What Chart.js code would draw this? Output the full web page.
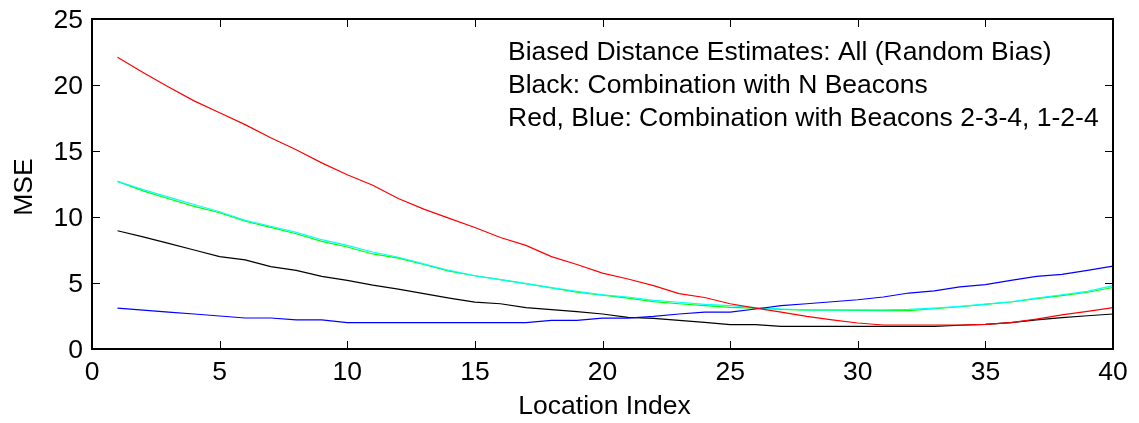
<!DOCTYPE html>
<html>
<head>
<meta charset="utf-8">
<title>MSE vs Location Index</title>
<script src="https://cdn.jsdelivr.net/npm/chart.js@4.4.1/dist/chart.umd.min.js"></script>
<style>
    html, body { margin: 0; padding: 0; background: #fff; }
    #wrap { position: relative; width: 1139px; height: 423px; }
</style>
</head>
<body>
<div id="wrap"><canvas id="mseChart"></canvas></div>
<script>
// Location indices on the x axis
const locations = [1, 2, 3, 4, 5, 6, 7, 8, 9, 10, 11, 12, 13, 14, 15, 16, 17, 18, 19, 20,
    21, 22, 23, 24, 25, 26, 27, 28, 29, 30, 31, 32, 33, 34, 35, 36, 37, 38, 39, 40];

// MSE per location for each combination
const mseBlack = [8.96, 8.5, 8.0, 7.5, 7.0, 6.75, 6.24, 5.95, 5.5, 5.2, 4.84, 4.54, 4.19, 3.86, 3.55, 3.43, 3.13, 2.98, 2.83, 2.65,
    2.4, 2.32, 2.17, 2.02, 1.84, 1.84, 1.72, 1.72, 1.72, 1.72, 1.72, 1.72, 1.72, 1.8, 1.87, 2.0, 2.2, 2.37, 2.52, 2.65];
const mseGreen = [12.7, 11.98, 11.38, 10.8, 10.32, 9.68, 9.22, 8.73, 8.15, 7.73, 7.2, 6.88, 6.4, 5.9, 5.55, 5.25, 4.95, 4.63, 4.3, 4.08,
    3.86, 3.59, 3.43, 3.28, 3.16, 3.1, 3.0, 2.95, 2.95, 2.93, 2.9, 2.9, 3.05, 3.2, 3.38, 3.56, 3.81, 4.04, 4.3, 4.66];
const mseCyan = [12.7, 12.07, 11.5, 10.95, 10.4, 9.75, 9.3, 8.83, 8.28, 7.85, 7.35, 6.95, 6.45, 5.95, 5.55, 5.25, 4.95, 4.65, 4.36, 4.1,
    3.94, 3.69, 3.54, 3.38, 3.28, 3.13, 3.03, 2.97, 2.97, 2.97, 2.97, 3.0, 3.1, 3.23, 3.4, 3.58, 3.86, 4.11, 4.36, 4.8];
const mseBlue = [3.1, 2.95, 2.8, 2.65, 2.5, 2.35, 2.35, 2.2, 2.2, 2.0, 2.0, 2.0, 2.0, 2.0, 2.0, 2.0, 2.0, 2.17, 2.17, 2.34,
    2.34, 2.47, 2.65, 2.8, 2.8, 3.03, 3.28, 3.43, 3.58, 3.73, 3.94, 4.24, 4.4, 4.7, 4.87, 5.2, 5.5, 5.66, 5.96, 6.28];
const mseRed = [22.1, 20.95, 19.85, 18.8, 17.9, 17.0, 16.0, 15.1, 14.1, 13.2, 12.4, 11.4, 10.6, 9.9, 9.2, 8.45, 7.85, 7.0, 6.4, 5.75,
    5.3, 4.8, 4.2, 3.9, 3.43, 3.1, 2.8, 2.47, 2.2, 1.97, 1.82, 1.82, 1.82, 1.82, 1.87, 2.0, 2.27, 2.58, 2.85, 3.13];

// Axis ticks
const xTicks = [0, 5, 10, 15, 20, 25, 30, 35, 40];
const yTicks = [0, 5, 10, 15, 20, 25];

// Annotation lines in the upper right
const noteLines = [
    'Biased Distance Estimates: All (Random Bias)',
    'Black: Combination with N Beacons',
    'Red, Blue: Combination with Beacons 2-3-4, 1-2-4'
];

const FONT = '25px "Liberation Sans", Arial, sans-serif';
const STRETCH = 1.06;   // text is a little wider than plain Arial

function series(values, color) {
    return {
        data: locations.map((x, i) => ({ x: x, y: values[i] })),
        borderColor: color,
        borderWidth: 1.2,
        pointRadius: 0,
        tension: 0,
        fill: false
    };
}

// draw a string with the horizontal stretch, optionally rotated
function drawText(ctx, str, x, y, align, angle) {
    ctx.save();
    ctx.translate(x, y);
    if (angle) ctx.rotate(angle);
    ctx.scale(STRETCH, 1);
    ctx.textAlign = align;
    ctx.textBaseline = 'alphabetic';
    ctx.fillText(str, 0, 0);
    ctx.restore();
}

// Box around the plot, inward tick marks, tick labels, axis titles and the note
const frameAndText = {
    id: 'frameAndText',
    afterDatasetsDraw(chart) {
        const { ctx, chartArea: a, scales } = chart;
        const len = 8;
        ctx.save();
        ctx.strokeStyle = '#000';
        ctx.lineWidth = 1;
        ctx.beginPath();
        xTicks.forEach(v => {
            const px = Math.round(scales.x.getPixelForValue(v)) + 0.5;
            ctx.moveTo(px, a.bottom); ctx.lineTo(px, a.bottom - len);
            ctx.moveTo(px, a.top); ctx.lineTo(px, a.top + len);
        });
        yTicks.forEach(v => {
            const py = Math.round(scales.y.getPixelForValue(v)) + 0.5;
            ctx.moveTo(a.left, py); ctx.lineTo(a.left + len, py);
            ctx.moveTo(a.right, py); ctx.lineTo(a.right - len, py);
        });
        ctx.stroke();
        ctx.lineWidth = 2;
        ctx.strokeRect(a.left, a.top, a.right - a.left, a.bottom - a.top);

        ctx.fillStyle = '#000';
        ctx.font = FONT;
        xTicks.forEach(v => drawText(ctx, String(v), scales.x.getPixelForValue(v), a.bottom + 31, 'center'));
        yTicks.forEach(v => drawText(ctx, String(v), a.left - 9, scales.y.getPixelForValue(v) + 9, 'right'));

        drawText(ctx, 'Location Index', (a.left + a.right) / 2 + 2, 414, 'center');
        drawText(ctx, 'MSE', 32, (a.top + a.bottom) / 2 + 3, 'center', -Math.PI / 2);

        noteLines.forEach((t, i) => drawText(ctx, t, 508, 60 + i * 33, 'left'));
        ctx.restore();
    }
};

// Chart.js paints the first dataset last, so the list runs top layer first
new Chart(document.getElementById('mseChart'), {
    type: 'line',
    data: {
        datasets: [
            series(mseRed, '#ff0000'),
            series(mseBlue, '#0000ff'),
            series(mseCyan, '#00ffff'),
            series(mseGreen, '#00ff00'),
            series(mseBlack, '#000000')
        ]
    },
    options: {
        responsive: true,
        maintainAspectRatio: false,
        animation: false,
        layout: { padding: { left: 0, top: 19, right: 26, bottom: 0 } },
        plugins: {
            legend: { display: false },
            tooltip: { enabled: false }
        },
        scales: {
            x: {
                type: 'linear',
                min: 0,
                max: 40,
                afterFit: scale => { scale.height = 74; },
                grid: { display: false },
                border: { display: false },
                ticks: { display: false }
            },
            y: {
                min: 0,
                max: 25,
                afterFit: scale => { scale.width = 92; },
                grid: { display: false },
                border: { display: false },
                ticks: { display: false }
            }
        }
    },
    plugins: [frameAndText]
});
</script>
</body>
</html>
